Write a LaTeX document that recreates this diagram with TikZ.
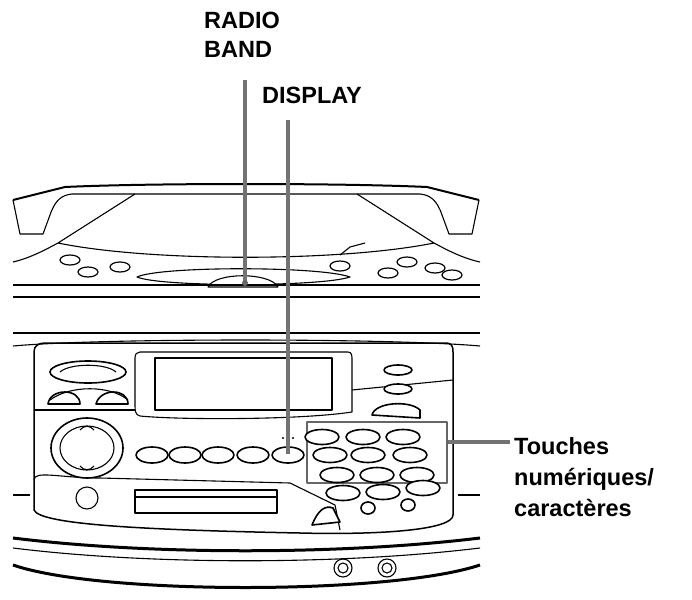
\documentclass[tikz,border=0pt]{standalone}
\usepackage{fontspec}
\setmainfont{Liberation Sans}
\begin{document}
\begin{tikzpicture}[x=1pt,y=-1pt,line join=round,
  ln/.style={draw=black,line width=1.1pt},
  thick ln/.style={draw=black,line width=3pt},
  btn/.style={draw=black,line width=1.6pt,fill=white},
  lead/.style={draw=black!55,line width=3.5pt},
  lbl/.style={font=\bfseries\fontsize{23.5}{29}\selectfont,align=left,inner sep=0pt}]
\useasboundingbox (0,0) rectangle (692,599);
% labels
\node[lbl,anchor=north west] (radio) at (204,12) {RADIO\\BAND};
\node[lbl,anchor=north west] (disp) at (262,87) {DISPLAY};
\node[lbl,anchor=west,align=left] (touch) at (514,477) {Touches\\[2pt]numériques/\\[2pt]caractères};
% handle
\draw[ln,line width=2pt] (13,200) -- (65,187) .. controls (150,183) and (340,183) .. (427,187) -- (479,200);
\draw[ln] (13,200) -- (20,234) -- (43,234) -- (50,215) .. controls (55,200) and (62,195) .. (72,194) -- (420,194) .. controls (430,195) and (437,200) .. (442,215) -- (449,234) -- (472,234) -- (479,200);
\draw[ln] (135,194) -- (58,243) .. controls (150,262) and (340,262) .. (434,243) -- (357,194);
\draw[ln] (13,262) .. controls (30,258) and (45,250) .. (58,243);
\draw[ln] (480,262) .. controls (462,258) and (447,250) .. (434,243);
\draw[ln] (340,255) -- (350,247) -- (365,243);
% top panel buttons
\foreach \x/\y in {70/260,88/272,120/267,340/266,388/273,407/262,435/268,452/275}
  \draw[btn,line width=1.2pt] (\x,\y) ellipse (10 and 5);
\draw[ln] (137,277) .. controls (160,266) and (320,266) .. (350,277) .. controls (320,287) and (160,287) .. cycle;
\draw[ln,fill=white] (208,287) .. controls (215,272) and (270,272) .. (278,287) -- cycle;
\node[inner sep=0pt] (bandbtn) at (245,283) {};
% horizontal bands
\draw[ln] (13,285) -- (480,285);
\draw[ln,line width=1.6pt] (13,297) -- (480,297);
\draw[ln] (13,333) -- (480,333);
\draw[ln] (13,346) .. controls (100,338) and (390,338) .. (480,346);
% front panel
\draw[ln,line width=1.5pt] (45,343) -- (445,343) .. controls (452,343) and (453,346) .. (453,352) -- (453,515) .. controls (453,530) and (380,535) .. (300,533) .. controls (150,530) and (40,525) .. (34,510) -- (34,352) .. controls (34,346) and (38,343) .. (45,343);
\draw[ln] (34,410) -- (135,410);
\draw[ln] (352,390) -- (453,380);
\draw[ln] (34,480) .. controls (34,470) and (60,478) .. (100,478) -- (290,483) -- (335,505) -- (340,530);
\draw[ln] (13,495) -- (30,495);
\draw[ln] (458,495) -- (480,495);
% display
\draw[ln] (140,352) -- (348,352) .. controls (352,352) and (352,356) .. (352,360) -- (352,412) .. controls (300,420) and (180,420) .. (140,416) .. controls (135,415) and (135,410) .. (135,405) -- (135,358) .. controls (135,354) and (137,352) .. (140,352);
\draw[ln,line width=1.5pt] (155,358) rectangle (332,410);
% left buttons
\draw[btn] (88,372) ellipse (38 and 11);
\draw[ln] (60,372) .. controls (70,363) and (106,363) .. (116,372);
\draw[btn] (48,404) .. controls (50,388) and (80,388) .. (80,404) -- cycle;
\draw[btn] (96,404) .. controls (100,388) and (128,388) .. (128,404) -- cycle;
\draw[ln] (50,400) .. controls (70,385) and (110,385) .. (128,400);
% jog dial
\draw[btn] (87,448) ellipse (36 and 30);
\draw[ln] (87,448) ellipse (27 and 22);
\draw[ln] (80,430) .. controls (84,425) and (90,425) .. (94,430);
\draw[ln] (80,466) .. controls (84,471) and (90,471) .. (94,466);
% right column
\draw[btn] (398,370) ellipse (14 and 5);
\draw[btn] (398,389) ellipse (14 and 5);
\draw[btn] (372,415) .. controls (375,402) and (410,400) .. (420,410) -- (420,418) -- cycle;
% row of buttons
\foreach \x in {152,185,218,253} \draw[btn] (\x,455) ellipse (16 and 8);
\draw[btn] (288,455) ellipse (16 and 8);
\node[inner sep=0pt] (dispbtn) at (288,455) {};
\fill (283,438) circle (1.2) (293,438) circle (1.2);
% keypad
\node[draw=black!60,line width=2pt,minimum width=140,minimum height=61,inner sep=0pt] (keypad) at (377,452.5) {};
\foreach \x/\y in {322/437,363/437,403/437,330/455,368/455,410/455,337/475,377/475,417/475}
  \draw[btn] (\x,\y) ellipse (17 and 7.5);
\foreach \x/\y in {343/493,383/492,423/488}
  \draw[btn] (\x,\y) ellipse (17 and 7.5);
\draw[btn] (368,508) ellipse (7 and 6);
\draw[btn] (408,505) ellipse (7 and 6);
% lower panel
\draw[ln] (87,498) circle (11);
\draw[ln,line width=1.5pt] (135,490) rectangle (277,513);
\draw[ln] (135,497) -- (277,497);
\draw[btn] (312,525) .. controls (318,510) and (325,505) .. (333,508) -- (340,522) -- cycle;
% bottom
\draw[thick ln] (13,538) .. controls (150,555) and (340,555) .. (480,538);
\draw[ln] (13,548) .. controls (150,565) and (340,565) .. (480,548);
\draw[thick ln] (13,565) .. controls (100,595) and (390,595) .. (480,565);
\foreach \x in {343,387} {\draw[ln] (\x,568) circle (9); \draw[ln] (\x,568) circle (5);}
% leaders
\coordinate (rtop) at (245,80);
\coordinate (dtop) at (288,120);
\coordinate (kend) at (510,442);
\draw[lead] (rtop) -- (bandbtn);
\fill[black!60] (bandbtn) circle (3);
\draw[lead] (dtop) -- (dispbtn);
\draw[lead] (keypad.east |- kend) -- (kend);
\end{tikzpicture}
\end{document}
